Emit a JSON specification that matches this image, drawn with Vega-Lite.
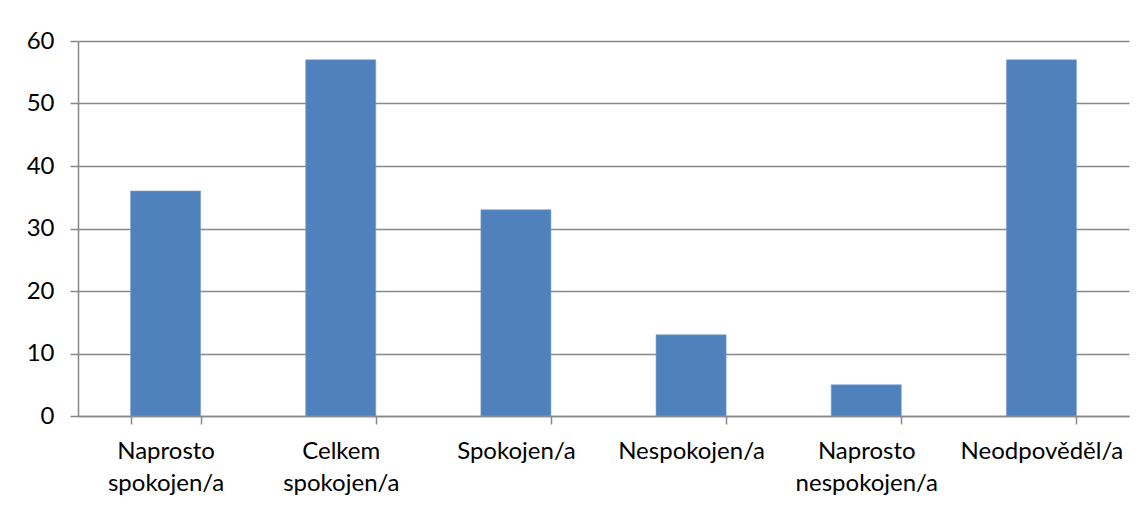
{
  "$schema": "https://vega.github.io/schema/vega-lite/v6.json",
  "width": 1051,
  "height": 375,
  "autosize": {"type": "none"},
  "padding": {"left": 78, "top": 41, "right": 18, "bottom": 90},
  "background": "white",
  "config": {"view": {"stroke": null}, "font": "Lato"},
  "data": {"values": [
    {"kategorie": "Naprosto spokojen/a", "pocet": 36},
    {"kategorie": "Celkem spokojen/a", "pocet": 57},
    {"kategorie": "Spokojen/a", "pocet": 33},
    {"kategorie": "Nespokojen/a", "pocet": 13},
    {"kategorie": "Naprosto nespokojen/a", "pocet": 5},
    {"kategorie": "Neodpověděl/a", "pocet": 57}
  ]},
  "mark": {"type": "bar", "color": "#4F81BD", "stroke": "#7EA1CF", "strokeWidth": 0.6},
  "encoding": {
    "x": {
      "field": "kategorie", "type": "nominal", "sort": null,
      "scale": {"paddingInner": 0.6, "paddingOuter": 0.3},
      "axis": {
        "title": null, "labelAngle": 0, "labelFont": "Lato", "labelFontSize": 24,
        "labelColor": "#000", "labelLineHeight": 32, "labelPadding": 15,
        "labelExpr": "split(datum.label, ' ')",
        "tickBand": "extent", "tickSize": 8, "tickColor": "#888", "tickWidth": 1.5,
        "domainColor": "#888", "domainWidth": 1.5, "grid": false
      }
    },
    "y": {
      "field": "pocet", "type": "quantitative",
      "scale": {"domain": [0, 60]},
      "axis": {
        "title": null, "values": [0, 10, 20, 30, 40, 50, 60],
        "labelFont": "Lato", "labelFontSize": 24, "labelColor": "#000", "labelPadding": 16,
        "tickSize": 8, "tickColor": "#888", "tickWidth": 1.5,
        "domainColor": "#888", "domainWidth": 1.5,
        "grid": true, "gridColor": "#888", "gridWidth": 1.5
      }
    }
  }
}
